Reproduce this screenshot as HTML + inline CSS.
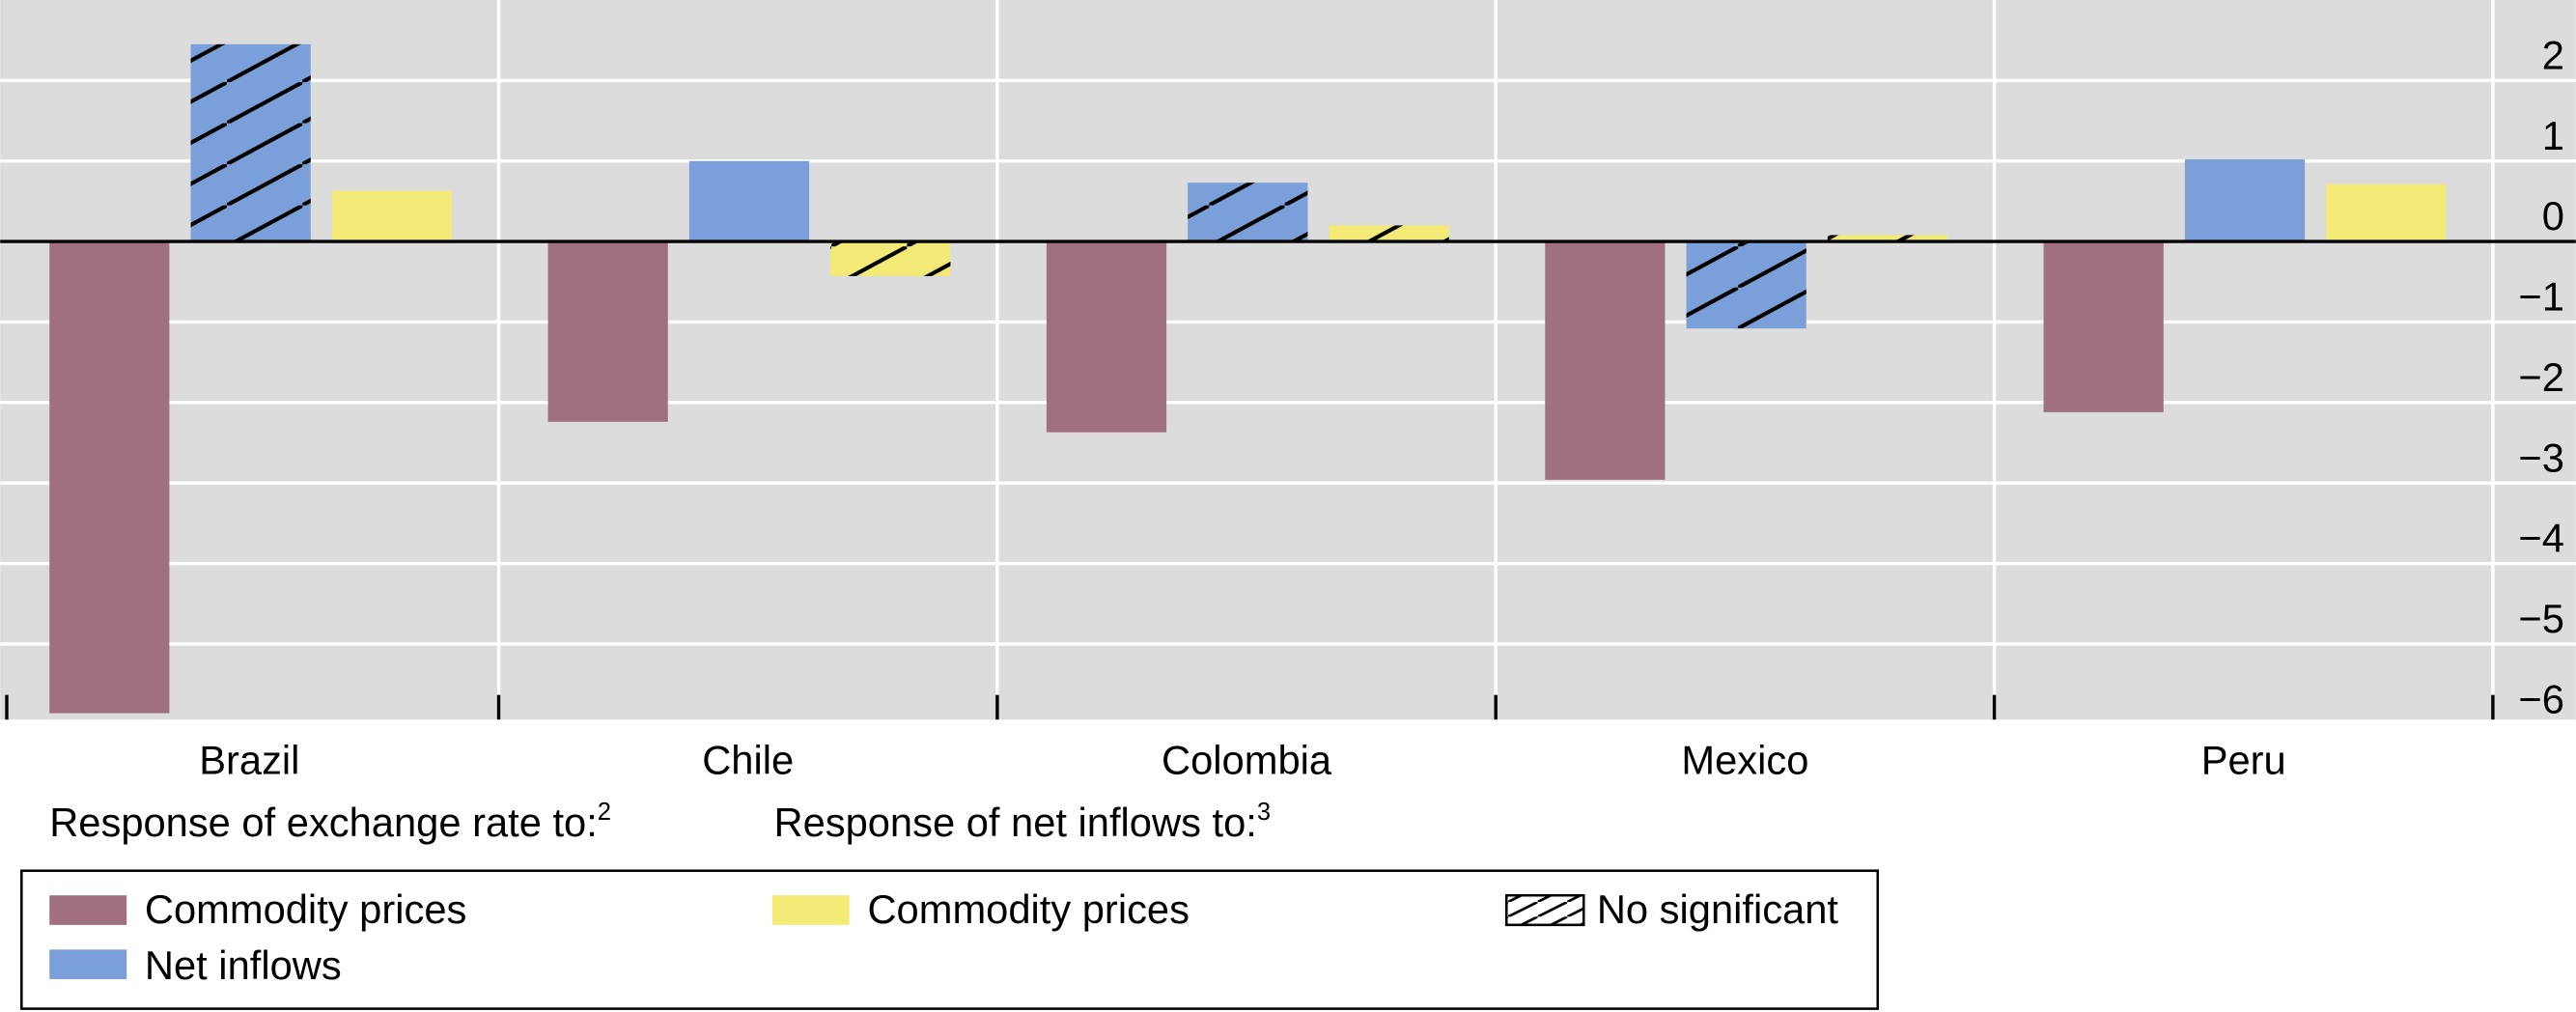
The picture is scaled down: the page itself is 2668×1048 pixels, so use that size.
<!DOCTYPE html>
<html><head><meta charset="utf-8"><style>
html,body{margin:0;padding:0;background:#fff}
svg{display:block}
text{font-family:"Liberation Sans",Arial,sans-serif;fill:#000}
</style></head><body>
<svg id="c" width="2668" height="1048" viewBox="0 0 1568 616" xmlns="http://www.w3.org/2000/svg">
<defs>
<pattern id="hatch" patternUnits="userSpaceOnUse" width="46" height="25">
<line x1="-2" y1="26" x2="48" y2="-1" stroke="#000" stroke-width="2.4"/>
</pattern>
<pattern id="hatch2" patternUnits="userSpaceOnUse" width="18" height="9">
<line x1="-1" y1="9.5" x2="19" y2="-0.5" stroke="#000" stroke-width="1.6"/>
</pattern>
</defs>
<rect x="0" y="0" width="1568" height="438" fill="#dcdcdc"/>
<g id="grid"></g>
<g id="bars"></g>
<g id="axis"></g>
<text x="30" y="509" font-size="24.5">Response of exchange rate to:<tspan font-size="15" dy="-10">2</tspan></text>
<text x="471" y="509" font-size="24.5">Response of net inflows to:<tspan font-size="15" dy="-10">3</tspan></text>
<g>
<rect x="13" y="530" width="1130" height="84" fill="#fff" stroke="#000" stroke-width="1.5"/>
<rect x="30" y="545" width="47" height="18" fill="#a07080"/>
<text x="88" y="562" font-size="24.5">Commodity prices</text>
<rect x="30" y="578" width="47" height="18" fill="#7b9fd8"/>
<text x="88" y="596" font-size="24.5">Net inflows</text>
<rect x="470" y="545" width="47" height="18" fill="#f3ea78"/>
<text x="528" y="562" font-size="24.5">Commodity prices</text>
<rect x="917" y="545" width="47" height="18" fill="url(#hatch2)" stroke="#000" stroke-width="1.5"/>
<text x="972" y="562" font-size="24.5">No significant</text>
</g>
</svg>
<script>
const categories = ["Brazil","Chile","Colombia","Mexico","Peru"];
const fxCommodity = [-5.86,-2.24,-2.37,-2.96,-2.12];
const fxInflows = [2.45,1.0,0.73,-1.08,1.02];
const inflowCommodity = [0.63,-0.43,0.2,0.08,0.71];
const fxInflowsSig = [false,true,false,false,true];
const inflowCommoditySig = [true,false,false,false,true];
const yTicks = [2,1,0,-1,-2,-3,-4,-5,-6];

const NS="http://www.w3.org/2000/svg";
const x0=0, groupW=303.5, zeroY=147, unit=49, barW=73;
const y=v=>zeroY - v*unit;
const gx=i=>x0+i*groupW;
function mk(tag,attrs,parent){const e=document.createElementNS(NS,tag);for(const k in attrs)e.setAttribute(k,attrs[k]);parent.appendChild(e);return e;}
const grid=document.getElementById('grid'), bars=document.getElementById('bars'), axis=document.getElementById('axis');
yTicks.forEach(t=>{
  if(t!==0){const l=mk('line',{x1:0,x2:1568,y1:y(t),y2:y(t),stroke:'#fff','stroke-width':2},grid);
  
  }
  const tx=mk('text',{x:1561,y:y(t)-7,'font-size':24.5,'text-anchor':'end'},axis);
  tx.textContent=(t<0?'\u2212':'')+Math.abs(t);
  
  
});
for(let i=1;i<=5;i++){
  const l=mk('line',{x1:gx(i),x2:gx(i),y1:0,y2:438,stroke:'#fff','stroke-width':2},grid);
  
  
}
for(let i=0;i<=5;i++){
  const t=mk('line',{x1:i===0?4:gx(i),x2:i===0?4:gx(i),y1:423,y2:438,stroke:'#000','stroke-width':2},axis);
  
  
}
const series=[[fxCommodity,'#a07080',30,null],[fxInflows,'#7b9fd8',116,fxInflowsSig],[inflowCommodity,'#f3ea78',202,inflowCommoditySig]];
categories.forEach((c,i)=>{
  series.forEach(([vals,col,off,sig],s)=>{
    const v=vals[i], top=Math.min(y(v),zeroY), h=Math.abs(y(v)-zeroY);
    const r=mk('rect',{x:gx(i)+off,y:top,width:barW,height:h,fill:col},bars);
    
    
    if(sig && !sig[i]){
      const hr=mk('rect',{x:gx(i)+off,y:top,width:barW,height:h,fill:'url(#hatch)'},bars);
      
      
    }
  });
  const lb=mk('text',{x:gx(i)+groupW/2,y:471,'font-size':24.5,'text-anchor':'middle'},axis);
  lb.textContent=c;
  
  
});
const z=mk('line',{x1:0,x2:1568,y1:zeroY,y2:zeroY,stroke:'#000','stroke-width':2},axis);


</script>
</body></html>
